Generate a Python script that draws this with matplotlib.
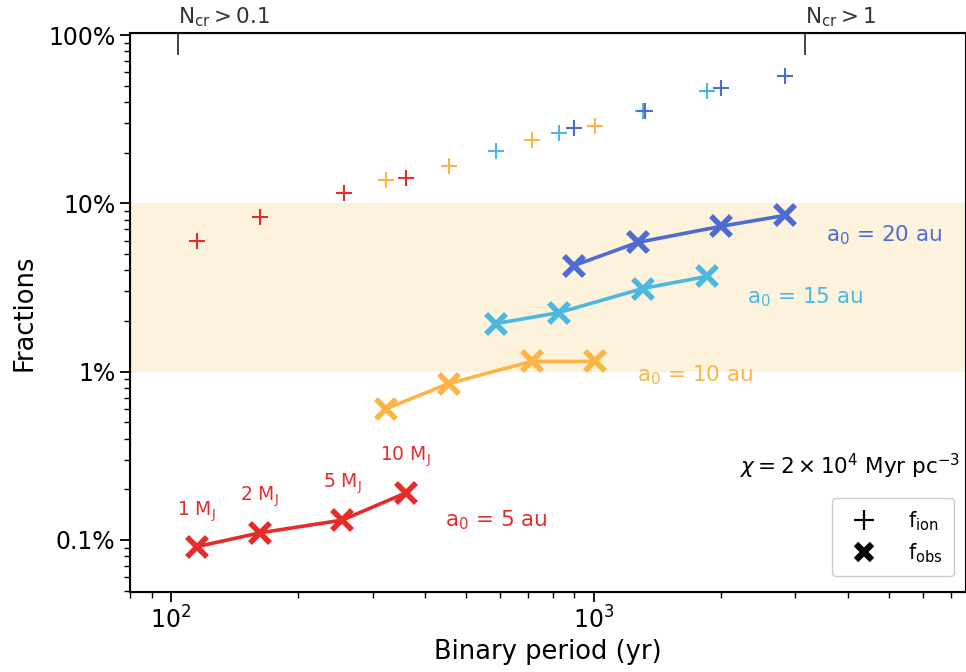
import matplotlib
matplotlib.use("Agg")
import matplotlib.pyplot as plt
from matplotlib import ticker
from matplotlib.lines import Line2D

plt.rcParams["font.family"] = ["DejaVu Sans"]
plt.rcParams["mathtext.fontset"] = "dejavusans"

# binary periods (yr) and fractions for each initial separation
labels = ["$\\mathrm{a_0}$ = 5 au", "$\\mathrm{a_0}$ = 10 au",
          "$\\mathrm{a_0}$ = 15 au", "$\\mathrm{a_0}$ = 20 au"]
colors = ["#e62b2b", "#fdb345", "#4cb8e2", "#4d6bd1"]

period_obs = [
    [115, 162, 254, 359],
    [322, 454, 713, 1005],
    [586, 826, 1306, 1850],
    [898, 1270, 1996, 2830],
]
f_obs = [
    [0.00091, 0.00110, 0.00131, 0.0019],
    [0.0060, 0.0085, 0.0115, 0.0115],
    [0.0193, 0.0224, 0.0312, 0.0368],
    [0.0427, 0.0586, 0.073, 0.0848],
]
period_ion = [
    [115, 162, 256, 359],
    [322, 454, 713, 1010],
    [586, 826, 1306, 1850],
    [898, 1320, 1996, 2830],
]
f_ion = [
    [0.060, 0.0825, 0.115, 0.141],
    [0.137, 0.166, 0.237, 0.287],
    [0.204, 0.262, 0.353, 0.464],
    [0.279, 0.356, 0.484, 0.57],
]

# label anchors (data coords)
label_pos = [(445, 0.00131), (1264, 0.0095), (2300, 0.0276), (3540, 0.0645)]
mass_labels = ["1 $\\mathrm{M_J}$", "2 $\\mathrm{M_J}$", "5 $\\mathrm{M_J}$",
               "10 $\\mathrm{M_J}$"]
mass_label_y = [0.00147, 0.0018, 0.00215, 0.0031]

ncr_periods = [104, 3170]
ncr_labels = ["$\\mathrm{N_{cr}>0.1}$", "$\\mathrm{N_{cr}>1}$"]

fig = plt.figure(figsize=(9.66, 6.72), dpi=100)
ax = fig.add_axes([130 / 966, 80 / 672, 836 / 966, 559 / 672])

ax.axhspan(0.01, 0.1, color="#fdf3dc", zorder=0, lw=0)

for i in range(4):
    ax.plot(period_obs[i], f_obs[i], color=colors[i], lw=2.6, marker="x",
            ms=14, mew=4, zorder=3)
    ax.plot(period_ion[i], f_ion[i], ls="none", color=colors[i], marker="+",
            ms=12, mew=1.5, zorder=3)
    ax.text(label_pos[i][0], label_pos[i][1], labels[i], color=colors[i],
            fontsize=15.5, va="center", ha="left")

for x, y, t in zip(period_obs[0], mass_label_y, mass_labels):
    ax.text(x, y, t, color=colors[0], fontsize=13.5, ha="center", va="center")

ax.text(0.993, 0.225, "$\\chi = 2 \\times 10^4$ Myr pc$^{-3}$",
        transform=ax.transAxes, ha="right", va="center", fontsize=15.5)

ax.set_xscale("log")
ax.set_yscale("log")
ax.set_xlim(80, 7600)
ax.set_ylim(4.9e-4, 1.03)
ax.yaxis.set_major_locator(ticker.FixedLocator([0.001, 0.01, 0.1, 1]))
ax.yaxis.set_major_formatter(ticker.FixedFormatter(["0.1%", "1%", "10%", "100%"]))
ax.tick_params(axis="both", which="major", labelsize=17, length=7, width=1.3)
ax.tick_params(axis="both", which="minor", length=4, width=1.0)
ax.set_xlabel("Binary period (yr)", fontsize=18.5, labelpad=4)
ax.set_ylabel("Fractions", fontsize=18.5, labelpad=8)
for s in ax.spines.values():
    s.set_linewidth(1.5)

top = ax.twiny()
top.set_xscale("log")
top.set_xlim(ax.get_xlim())
top.xaxis.set_major_locator(ticker.FixedLocator(ncr_periods))
top.xaxis.set_major_formatter(ticker.FixedFormatter(ncr_labels))
top.xaxis.set_minor_locator(ticker.NullLocator())
top.tick_params(axis="x", direction="in", length=16, width=1.3,
                labelsize=15.5, pad=3, colors="#333333", labelcolor="#333333")
for lab in top.get_xticklabels():
    lab.set_horizontalalignment("left")

handles = [
    Line2D([], [], ls="none", marker="+", color="k", ms=14, mew=1.6),
    Line2D([], [], ls="none", marker="x", color="k", ms=12, mew=4.5),
]
ax.legend(handles, ["$\\mathrm{f_{ion}}$", "$\\mathrm{f_{obs}}$"],
          loc="lower right", fontsize=15, handletextpad=1.1, borderpad=0.55,
          labelspacing=0.4, bbox_to_anchor=(0.998, 0.01), framealpha=1,
          edgecolor="#cccccc")

fig.savefig("out.png", dpi=100)
